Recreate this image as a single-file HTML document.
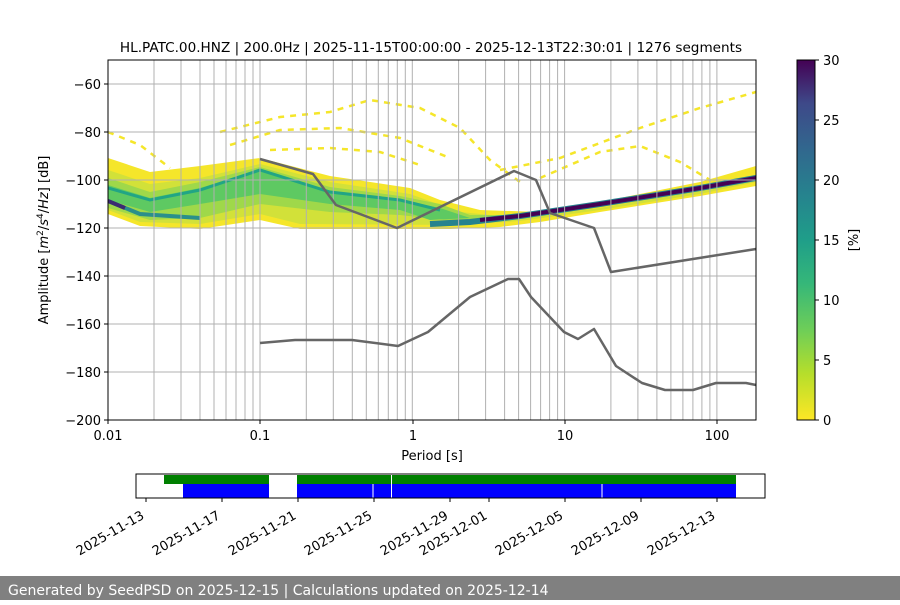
<!DOCTYPE html>
<html><head><meta charset="utf-8"><style>
body{margin:0;background:#fff;width:900px;height:600px;overflow:hidden;font-family:"Liberation Sans","DejaVu Sans",sans-serif}
</style></head><body>
<svg width="900" height="600" xmlns="http://www.w3.org/2000/svg" font-family="DejaVu Sans, Liberation Sans, sans-serif">
<defs>
<linearGradient id="vir" x1="0" y1="1" x2="0" y2="0">
<stop offset="0" stop-color="#fde725"/><stop offset="0.13" stop-color="#b5de2b"/><stop offset="0.25" stop-color="#6ece58"/><stop offset="0.38" stop-color="#35b779"/><stop offset="0.5" stop-color="#1f9e89"/><stop offset="0.63" stop-color="#26828e"/><stop offset="0.75" stop-color="#31688e"/><stop offset="0.88" stop-color="#3e4989"/><stop offset="1" stop-color="#440154"/>
</linearGradient>
<clipPath id="ax"><rect x="108" y="60" width="648" height="360"/></clipPath>
</defs>
<rect width="900" height="600" fill="#fff"/>
<text x="431" y="52" font-size="13.6" text-anchor="middle">HL.PATC.00.HNZ | 200.0Hz | 2025-11-15T00:00:00 - 2025-12-13T22:30:01 | 1276 segments</text>
<g clip-path="url(#ax)">
<path d="M108,158 L150,172 L200,166 L260,158 L330,176 L410,188 L440,200 L480,210 L540,212 L600,202 L700,182 L756,166 L756,186 L700,196 L600,212 L540,222 L500,227 L450,229 L300,229 L260,220 L200,229 L140,226 L108,214 Z" fill="#f5e62a"/>
<path d="M108,170 L150,184 L200,178 L260,164 L330,182 L410,194 L460,212 L520,218 L600,208 L700,190 L756,176 L756,182 L700,194 L600,210 L520,221 L460,225 L300,224 L260,214 L200,224 L140,222 L108,210 Z" fill="#d2e139"/>
<path d="M108,178 L150,192 L200,182 L260,167 L330,187 L400,196 L440,204 L470,215 L520,215 L520,219 L470,223 L400,215 L330,212 L260,204 L200,218 L150,220 L108,208 Z" fill="#9fd84a"/>
<path d="M108,185 L150,198 L200,188 L260,170 L330,192 L400,200 L440,208 L470,218 L430,220 L400,210 L330,204 L260,194 L200,204 L150,212 L108,200 Z" fill="#5ec962"/>
<path d="M108,188 L150,200 L200,190 L260,170 L330,192 L400,200 L440,210" fill="none" stroke="#21a585" stroke-width="3"/>
<path d="M108,201 L140,214 L200,218" fill="none" stroke="#2a8f8b" stroke-width="4"/>
<path d="M108,201 L125,208" fill="none" stroke="#3b2a72" stroke-width="4"/>
<path d="M430,224 L470,222 L520,216 L600,204 L700,188 L756,178" fill="none" stroke="#26828e" stroke-width="6"/>
<path d="M480,220 L520,216 L600,204 L700,188 L756,178" fill="none" stroke="#440154" stroke-width="4"/>
<g fill="none" stroke="#f5e62a" stroke-width="2.5" stroke-dasharray="6,6">
<path d="M108,132 L140,145 L170,168"/>
<path d="M220,132 L280,117 L330,112 L370,100 L420,108 L460,128 L490,160 L520,182"/>
<path d="M230,145 L280,130 L340,128 L400,138 L450,158"/>
<path d="M500,170 L560,158 L640,128 L700,108 L756,92"/>
<path d="M540,178 L600,152 L640,146 L680,162 L710,180"/>
<path d="M270,150 L330,148 L380,152 L420,165"/>
</g>
</g>
<g stroke="#b0b0b0" stroke-width="1" clip-path="url(#ax)">
<line x1="108" x2="756" y1="84" y2="84"/><line x1="108" x2="756" y1="132" y2="132"/><line x1="108" x2="756" y1="180" y2="180"/><line x1="108" x2="756" y1="228" y2="228"/><line x1="108" x2="756" y1="276" y2="276"/><line x1="108" x2="756" y1="324" y2="324"/><line x1="108" x2="756" y1="372" y2="372"/>
<g id="dec">
<line x1="154" x2="154" y1="60" y2="420"/><line x1="181" x2="181" y1="60" y2="420"/><line x1="200" x2="200" y1="60" y2="420"/><line x1="214" x2="214" y1="60" y2="420"/><line x1="226" x2="226" y1="60" y2="420"/><line x1="236" x2="236" y1="60" y2="420"/><line x1="245" x2="245" y1="60" y2="420"/><line x1="253" x2="253" y1="60" y2="420"/><line x1="260" x2="260" y1="60" y2="420"/>
</g>
<use href="#dec" x="152.3"/><use href="#dec" x="304.6"/><use href="#dec" x="456.9"/>
</g>
<g fill="none" stroke="#666" stroke-width="2.5" stroke-linejoin="round">
<polyline points="260,159 313,174 336,205 397,228 514,171 536,180 550,213 594,228 611,272 756,249"/>
<polyline points="260,343 295,340 352,340 398,346 428,332 470,297 508,279 519,279 531,297 564,332 578,339 594,329 616,366 642,383 665,390 693,390 716,383 746,383 756,385"/>
</g>
<rect x="108" y="60" width="648" height="360" fill="none" stroke="#000" stroke-width="1"/>
<g stroke="#000">
<line x1="104" x2="108" y1="84" y2="84"/><line x1="104" x2="108" y1="132" y2="132"/><line x1="104" x2="108" y1="180" y2="180"/><line x1="104" x2="108" y1="228" y2="228"/><line x1="104" x2="108" y1="276" y2="276"/><line x1="104" x2="108" y1="324" y2="324"/><line x1="104" x2="108" y1="372" y2="372"/><line x1="104" x2="108" y1="420" y2="420"/>
<line x1="108" x2="108" y1="420" y2="424"/><line x1="260" x2="260" y1="420" y2="424"/><line x1="413" x2="413" y1="420" y2="424"/><line x1="565" x2="565" y1="420" y2="424"/><line x1="717" x2="717" y1="420" y2="424"/>
</g>
<g font-size="13" text-anchor="end">
<text x="101" y="89">−60</text><text x="101" y="137">−80</text><text x="101" y="185">−100</text><text x="101" y="233">−120</text><text x="101" y="281">−140</text><text x="101" y="329">−160</text><text x="101" y="377">−180</text><text x="101" y="425">−200</text>
</g>
<g font-size="13" text-anchor="middle">
<text x="108" y="440">0.01</text><text x="260" y="440">0.1</text><text x="413" y="440">1</text><text x="565" y="440">10</text><text x="717" y="440">100</text>
<text x="432" y="460">Period [s]</text>
</g>
<text transform="translate(48,240) rotate(-90)" font-size="13" text-anchor="middle">Amplitude [<tspan font-style="italic">m</tspan><tspan font-size="9" dy="-5">2</tspan><tspan dy="5">/</tspan><tspan font-style="italic">s</tspan><tspan font-size="9" dy="-5">4</tspan><tspan dy="5">/</tspan><tspan font-style="italic">Hz</tspan>] [dB]</text>
<rect x="797" y="60" width="18" height="360" fill="url(#vir)" stroke="#000" stroke-width="1"/>
<g stroke="#000"><line x1="815" x2="819" y1="60" y2="60"/><line x1="815" x2="819" y1="120" y2="120"/><line x1="815" x2="819" y1="180" y2="180"/><line x1="815" x2="819" y1="240" y2="240"/><line x1="815" x2="819" y1="300" y2="300"/><line x1="815" x2="819" y1="360" y2="360"/><line x1="815" x2="819" y1="420" y2="420"/></g>
<g font-size="13"><text x="823" y="65">30</text><text x="823" y="125">25</text><text x="823" y="185">20</text><text x="823" y="245">15</text><text x="823" y="305">10</text><text x="823" y="365">5</text><text x="823" y="425">0</text></g>
<text transform="translate(858,240) rotate(-90)" font-size="13" text-anchor="middle">[%]</text>
<rect x="164" y="475" width="105" height="9" fill="#008000"/><rect x="297" y="475" width="439" height="9" fill="#008000"/>
<rect x="183" y="484" width="86" height="14" fill="#0000ff"/><rect x="297" y="484" width="439" height="14" fill="#0000ff"/>
<line x1="373" x2="373" y1="484" y2="498" stroke="#fff"/><line x1="391.5" x2="391.5" y1="474" y2="498" stroke="#fff"/><line x1="602" x2="602" y1="484" y2="498" stroke="#fff"/>
<rect x="136" y="474" width="629" height="24" fill="none" stroke="#000"/>
<g stroke="#000"><line x1="146" x2="146" y1="498" y2="502"/><line x1="222" x2="222" y1="498" y2="502"/><line x1="298" x2="298" y1="498" y2="502"/><line x1="374" x2="374" y1="498" y2="502"/><line x1="450" x2="450" y1="498" y2="502"/><line x1="489" x2="489" y1="498" y2="502"/><line x1="565" x2="565" y1="498" y2="502"/><line x1="641" x2="641" y1="498" y2="502"/><line x1="717" x2="717" y1="498" y2="502"/></g>
<g font-size="13" text-anchor="end">
<text transform="translate(145,518) rotate(-30)">2025-11-13</text>
<text transform="translate(221,518) rotate(-30)">2025-11-17</text>
<text transform="translate(297,518) rotate(-30)">2025-11-21</text>
<text transform="translate(373,518) rotate(-30)">2025-11-25</text>
<text transform="translate(449,518) rotate(-30)">2025-11-29</text>
<text transform="translate(488,518) rotate(-30)">2025-12-01</text>
<text transform="translate(564,518) rotate(-30)">2025-12-05</text>
<text transform="translate(640,518) rotate(-30)">2025-12-09</text>
<text transform="translate(716,518) rotate(-30)">2025-12-13</text>
</g>
<rect x="0" y="576" width="900" height="24" fill="#808080"/>
<text x="8" y="595" font-size="14" fill="#fff">Generated by SeedPSD on 2025-12-15 | Calculations updated on 2025-12-14</text>
</svg>
</body></html>
